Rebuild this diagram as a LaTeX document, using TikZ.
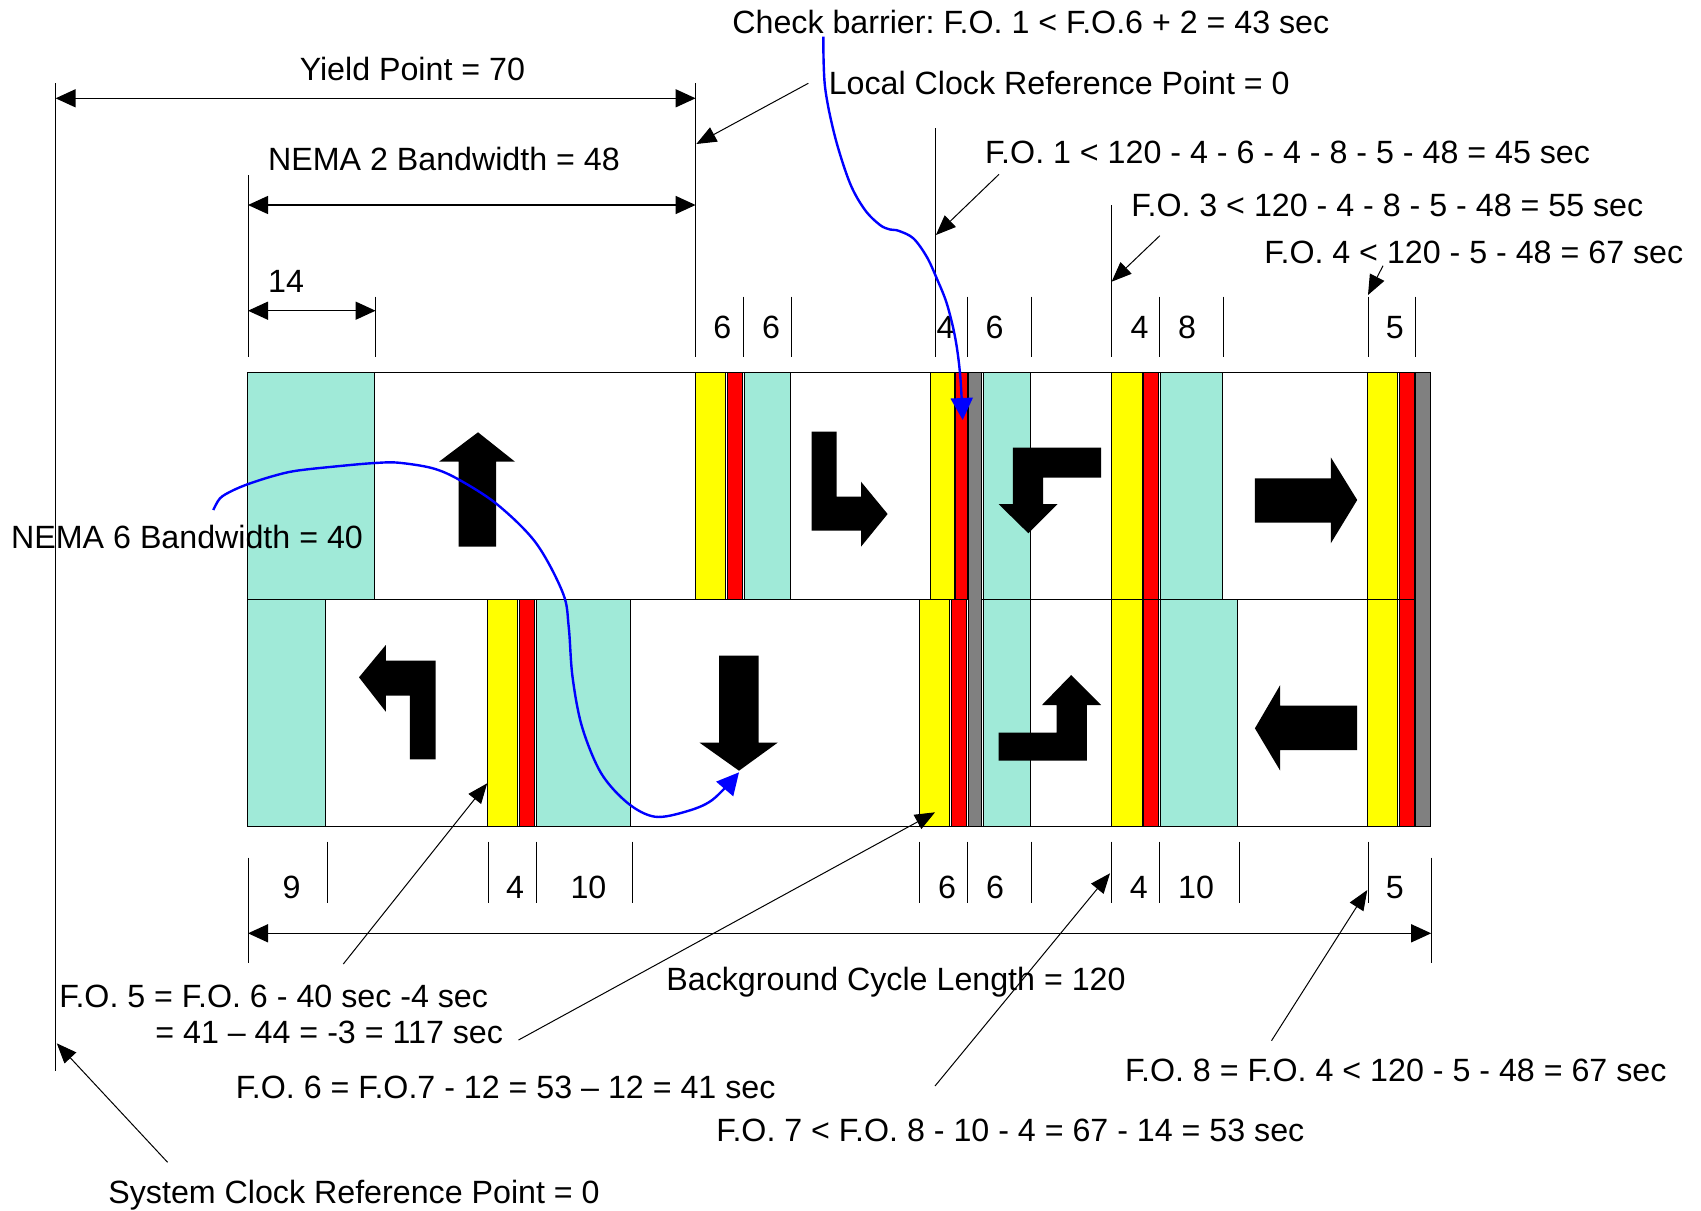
\documentclass[tikz,border=0pt]{standalone}
\usepackage{fontspec}
\setmainfont{Liberation Sans}
\usetikzlibrary{arrows.meta}
\definecolor{grn}{RGB}{160,234,216}
\definecolor{ylw}{RGB}{255,255,0}
\definecolor{rd}{RGB}{255,0,0}
\definecolor{gry}{RGB}{128,128,128}
\definecolor{blu}{RGB}{0,0,255}
\frenchspacing
\begin{document}
\begin{tikzpicture}[x=0.5pt,y=-0.5pt,
  every node/.style={inner sep=0pt, font=\fontsize{16.1}{19}\selectfont},
  lbl/.style={anchor=base west},
  num/.style={anchor=base},
  tk/.style={line width=0.5pt},
  dimarrow/.style={line width=0.7pt, {Triangle[length=10pt,width=9pt]}-{Triangle[length=10pt,width=9pt]}},
  callout/.style={line width=0.5pt, -{Triangle[length=10pt,width=8pt]}},
  bluecurve/.style={blu, line width=1.2pt, -{Triangle[length=11pt,width=11pt]}},
  bar/.style={draw=black, line width=0.5pt},
  gbar/.style={bar, fill=grn},
  ybar/.style={bar, fill=ylw},
  rbar/.style={bar, fill=rd},
  graybar/.style={bar, fill=gry},
  arrowshape/.style={fill=black}
]
\useasboundingbox (0,0) rectangle (1701,1210);

% rows
\draw[bar, fill=white] (247,372) rectangle (1430,599);
\draw[bar, fill=white] (247,599) rectangle (1430,826);

% top row bars
\draw[gbar] (247,372) rectangle (374.3,599);
\draw[ybar] (695.7,372) rectangle (725.6,599);
\draw[rbar] (727.5,372) rectangle (742,599);
\draw[gbar] (744,372) rectangle (790,599);
\draw[ybar] (930.8,372) rectangle (954.5,599);
\draw[rbar] (955.3,372) rectangle (967.4,599);
\draw[gbar] (983.7,372) rectangle (1030.4,599);
\draw[ybar] (1111.3,372) rectangle (1142.5,599);
\draw[rbar] (1143.6,372) rectangle (1158,599);
\draw[gbar] (1160,372) rectangle (1222.2,599);
\draw[ybar] (1367.7,372) rectangle (1397.3,599);
\draw[rbar] (1399,372) rectangle (1414.4,599);

% bottom row bars
\draw[gbar] (247,599) rectangle (325.7,826);
\draw[ybar] (487.6,599) rectangle (517.8,826);
\draw[rbar] (519.7,599) rectangle (534.2,826);
\draw[gbar] (536.2,599) rectangle (630.7,826);
\draw[ybar] (919.5,599) rectangle (949.8,826);
\draw[rbar] (951.4,599) rectangle (966.2,826);
\draw[gbar] (983.7,599) rectangle (1030.4,826);
\draw[ybar] (1111.3,599) rectangle (1142.5,826);
\draw[rbar] (1143.6,599) rectangle (1158,826);
\draw[gbar] (1160,599) rectangle (1237.8,826);
\draw[ybar] (1367.7,599) rectangle (1397.3,826);
\draw[rbar] (1399,599) rectangle (1414.4,826);

% gray barriers (full height)
\draw[graybar] (968.1,372) rectangle (981.8,826);
\draw[graybar] (1415.6,372) rectangle (1430.4,826);

% movement arrows
\fill[arrowshape] (478,432.3) -- (515,461.7) -- (496,461.7) -- (496,546.7) -- (458.5,546.7) -- (458.5,461.7) -- (439,461.7) -- cycle;
\fill[arrowshape] (811.7,431.7) -- (836.6,431.7) -- (836.6,496.7) -- (861,496.7) -- (861,481.7) -- (887.6,514) -- (861,546.7) -- (861,530.7) -- (811.7,530.7) -- cycle;
\fill[arrowshape] (1101.2,447.7) -- (1012.9,447.7) -- (1012.9,504) -- (998.5,504) -- (1028.4,533.3) -- (1057.6,504) -- (1043.2,504) -- (1043.2,477.7) -- (1101.2,477.7) -- cycle;
\fill[arrowshape] (1254.9,478.3) -- (1330.8,478.3) -- (1330.8,457.3) -- (1357.2,500) -- (1330.8,543.3) -- (1330.8,522.7) -- (1254.9,522.7) -- cycle;
\fill[arrowshape] (435.5,759.3) -- (435.5,660.7) -- (385.8,660.7) -- (385.8,645) -- (359,677.3) -- (385.8,711.7) -- (385.8,695.7) -- (409.9,695.7) -- (409.9,759.3) -- cycle;
\fill[arrowshape] (719,655.7) -- (758.5,655.7) -- (758.5,742.7) -- (777.6,742.7) -- (739,770.7) -- (699.6,742.7) -- (719,742.7) -- cycle;
\fill[arrowshape] (998.5,732.7) -- (1056.5,732.7) -- (1056.5,705) -- (1042,705) -- (1071.2,675) -- (1101.2,705) -- (1086.8,705) -- (1086.8,760.7) -- (998.5,760.7) -- cycle;
\fill[arrowshape] (1357.2,705.7) -- (1280.2,705.7) -- (1280.2,685) -- (1254.9,728.3) -- (1280.2,770.7) -- (1280.2,750) -- (1357.2,750) -- cycle;

% reference lines and ticks (top)
\draw[tk] (55.6,83.3) -- (55.6,1070.7);
\draw[tk] (695.6,83.3) -- (695.6,356.7);
\draw[tk] (248,175) -- (248,356.7);
\draw[tk] (935.2,128.3) -- (935.2,356.7);
\draw[tk] (1111.6,205) -- (1111.6,356.7);
\foreach \x in {375.6,743.2,791.3,967.8,1031.6,1159.8,1223.6,1368,1415.7}
  \draw[tk] (\x,296.5) -- (\x,356.7);
% ticks (bottom)
\draw[tk] (248,857.7) -- (248,963.3);
\draw[tk] (1431.2,857.7) -- (1431.2,963.3);
\foreach \x in {327.8,488,536.2,632,919.7,967.6,1031.4,1111.9,1159.8,1239.6,1368.6}
  \draw[tk] (\x,841.7) -- (\x,902.7);

% dimension arrows
\coordinate (yA) at (55.6,98.3);   \coordinate (yB) at (695.6,98.3);
\coordinate (nA) at (248,205);     \coordinate (nB) at (695.6,205);
\coordinate (fA) at (248,310.7);   \coordinate (fB) at (375.6,310.7);
\coordinate (cA) at (248,933.3);   \coordinate (cB) at (1431.2,933.3);
\draw[dimarrow] (yA) -- (yB);
\draw[dimarrow] (nA) -- (nB);
\draw[dimarrow] (fA) -- (fB);
\draw[dimarrow] (cA) -- (cB);

% texts
\node[lbl] (tyield) at (299.4,80) {Yield Point = 70};
\node[lbl] (tnema2) at (267.7,170.5) {NEMA 2 Bandwidth = 48};
\node[lbl] (t14) at (267.7,292.5) {14};
\node[lbl] (tcheck) at (732,33.2) {Check barrier: F.O. 1 < F.O.6 + 2 = 43 sec};
\node[lbl] (tlocal) at (828.4,94.8) {Local Clock Reference Point = 0};
\node[lbl] (tfo1) at (984.7,163.2) {F.O. 1 < 120 - 4 - 6 - 4 - 8 - 5 - 48 = 45 sec};
\node[lbl] (tfo3) at (1131,216.5) {F.O. 3 < 120 - 4 - 8 - 5 - 48 = 55 sec};
\node[lbl] (tfo4) at (1264,263.2) {F.O. 4 < 120 - 5 - 48 = 67 sec};
\node[lbl] (tnema6) at (10.8,548.3) {NEMA 6 Bandwidth = 40};
\node[lbl] (tcycle) at (666,990) {Background Cycle Length = 120};
\node[lbl] (tfo5a) at (59,1007.2) {F.O. 5 = F.O. 6 - 40 sec -4 sec};
\node[lbl] (tfo5b) at (155,1043.2) {= 41 – 44 = -3 = 117 sec};
\node[lbl] (tfo6) at (235.4,1098.2) {F.O. 6 = F.O.7 - 12 = 53 – 12 = 41 sec};
\node[lbl] (tfo7) at (716,1141.5) {F.O. 7 < F.O. 8 - 10 - 4 = 67 - 14 = 53 sec};
\node[lbl] (tfo8) at (1124.6,1081.5) {F.O. 8 = F.O. 4 < 120 - 5 - 48 = 67 sec};
\node[lbl] (tsys) at (108,1203.2) {System Clock Reference Point = 0};

% numbers top
\node[num] (n1) at (722.3,338.2) {6};
\node[num] (n2) at (771.1,338.2) {6};
\node[num] (n3) at (945.6,338.2) {4};
\node[num] (n4) at (994.5,338.2) {6};
\node[num] (n5) at (1139.6,338.2) {4};
\node[num] (n6) at (1187,338.2) {8};
\node[num] (n7) at (1394.8,338.2) {5};
% numbers bottom
\node[num] (m1) at (291.6,898.8) {9};
\node[num] (m2) at (515,898.8) {4};
\node[num] (m3) at (588.4,898.8) {10};
\node[num] (m4) at (947,898.8) {6};
\node[num] (m5) at (995,898.8) {6};
\node[num] (m6) at (1138.7,898.8) {4};
\node[num] (m7) at (1196,898.8) {10};
\node[num] (m8) at (1394.8,898.8) {5};

% callout arrows
\coordinate (lcS) at (808.3,83.3);    \coordinate (lcT) at (696.3,144);
\coordinate (f1S) at (999,174.3);     \coordinate (f1T) at (935.9,235);
\coordinate (f3S) at (1159.8,235.7);  \coordinate (f3T) at (1111.6,281.7);
\coordinate (f4S) at (1383,265.7);    \coordinate (f4T) at (1368,295);
\coordinate (f5S) at (343.3,964);     \coordinate (f5T) at (487.2,783.3);
\coordinate (f6S) at (518.5,1040);    \coordinate (f6T) at (935,812.3);
\coordinate (f7S) at (935,1086);      \coordinate (f7T) at (1110,873.3);
\coordinate (f8S) at (1271.5,1040.7); \coordinate (f8T) at (1367.3,890);
\coordinate (scS) at (167.6,1162.3);  \coordinate (scT) at (56.8,1043.3);
\draw[callout] (lcS) -- (lcT);
\draw[callout] (f1S) -- (f1T);
\draw[callout] (f3S) -- (f3T);
\draw[callout] (f4S) -- (f4T);
\draw[callout] (f5S) -- (f5T);
\draw[callout] (f6S) -- (f6T);
\draw[callout] (f7S) -- (f7T);
\draw[callout] (f8S) -- (f8T);
\draw[callout] (scS) -- (scT);

% blue curves
\draw[bluecurve] plot[smooth, tension=0.55] coordinates {(823.3,36.7) (825,86.7) (835,136.7) (850,183.3) (865,210) (880,225) (890,229.5) (898.3,230.7) (913.3,238.3) (926.7,256.7) (936.7,278.3) (946.7,303.3) (955,336.7) (960,373.3) (962.7,420)};
\draw[bluecurve] plot[smooth, tension=0.55] coordinates {(213.3,510) (220,498.3) (231.7,491) (248.3,484) (273.3,476) (296.7,470.7) (340,466) (375,463) (398.4,462.7) (432.8,468.3) (459.6,480) (497.9,505) (536.2,543.3) (563,593.3) (568.7,626.7) (572.5,676.7) (582,726.7) (601.2,773.3) (628,803.3) (654.8,816.7) (685.4,811.7) (712.2,800) (739,772.3)};
\end{tikzpicture}
\end{document}
